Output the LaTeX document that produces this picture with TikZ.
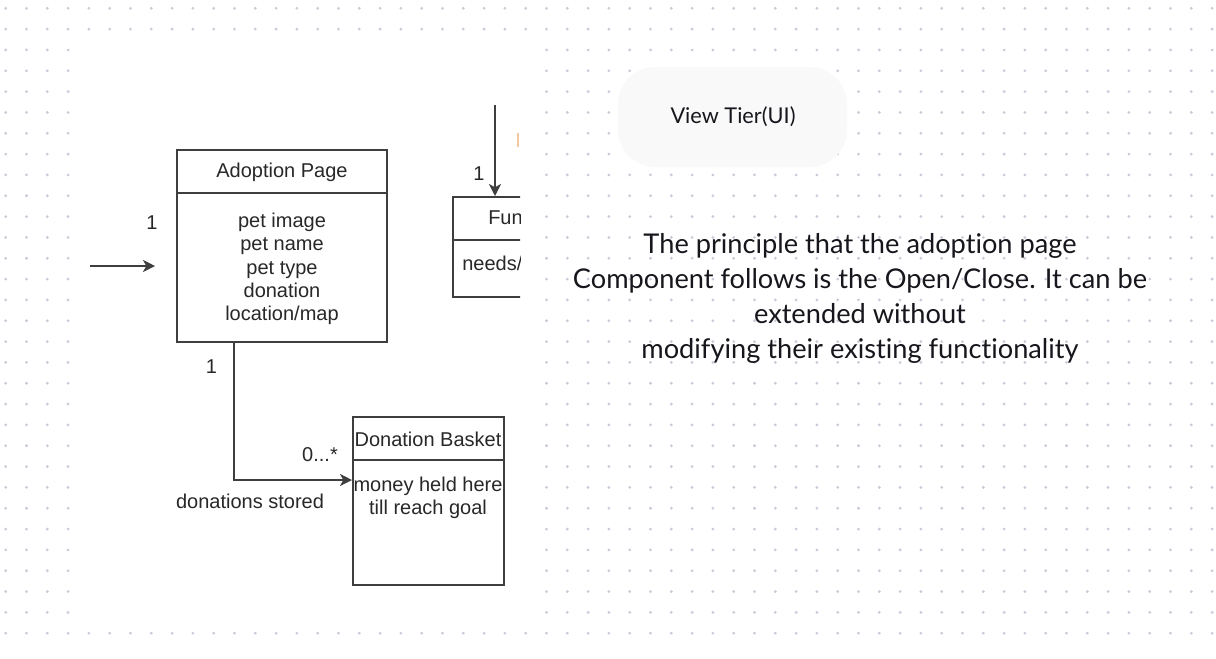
\documentclass[tikz,border=0pt]{standalone}
\usepackage{fontspec}
\setmainfont{Liberation Sans}
\newfontfamily\canva[Ligatures={NoCommon,NoRare}]{Lato}
\usetikzlibrary{arrows.meta,calc}
\definecolor{dotc}{RGB}{200,204,216}
\definecolor{linec}{RGB}{62,62,62}
\definecolor{txtc}{RGB}{40,40,40}
\definecolor{pillc}{RGB}{249,249,250}
\definecolor{markc}{RGB}{244,200,160}
\definecolor{darktxt}{RGB}{22,22,28}
\begin{document}
\begin{tikzpicture}[x=0.75pt,y=-0.75pt,
  umlbox/.style={draw=linec, line width=1.5pt, inner sep=0pt, rectangle},
  umltext/.style={text=txtc, font=\fontsize{15}{17.5}\selectfont, inner sep=0pt, align=center},
  conn/.style={draw=linec, line width=1.5pt},
  tip/.style={-{Stealth[length=9pt,width=9pt,inset=2.5pt]}},
  canvatext/.style={text=darktxt, inner sep=0pt, align=center}
]
\useasboundingbox (0,0) rectangle (1216,658);
\fill[white] (0,0) rectangle (1216,658);
% dotted grid
\foreach \i in {0,...,58}{
  \foreach \j in {0,...,30}{
    \pgfmathtruncatemacro\skipdot{(\i>3)*(\i<26)*(\j>1)*(\j<30)}
    \ifnum\skipdot=0
      \fill[dotc] ({5.7+20.8*\i},{8.3+20.83*\j}) circle (1.15pt);
    \fi
  }
}
% ---- left: UML fragment ----
\node[umlbox, minimum width=157.5pt, minimum height=144pt] (ap) at (282,246) {};
\draw[conn] (ap.west |- 0,193) coordinate (apdl) -- (ap.east |- apdl);
\node[umltext] (aptitle) at (282,172) {Adoption Page};
\node[umltext] (apbody) at (282,269) {pet image\\pet name\\pet type\\donation\\location/map};

\coordinate (la1) at (90,266);
\coordinate (la2) at (155,266);
\draw[conn, tip] (la1) -- (la2);
\node[umltext] (m1) at (152,223) {1};

% Fun box (cut off)
\begin{scope}
\clip (0,0) rectangle (520,658);
\node[umlbox, minimum width=80.25pt, minimum height=75pt] (fun) at (506.5,247) {};
\draw[conn] (fun.west |- 0,240) coordinate (fundl) -- (fun.east |- fundl);
\node[umltext, anchor=west] (funtitle) at (488,218) {Fun};
\node[umltext, anchor=west] (funbody) at (462,263) {needs/};
\end{scope}
\coordinate (fa) at (495,105);
\draw[conn, tip] (fa) -- (fun.north -| fa);
\node[umltext] (m2) at (479,174) {1};
\draw[markc, line width=1.3pt] (518,133) -- (518,147);

% Donation basket
\node[umlbox, minimum width=113.25pt, minimum height=126pt] (db) at (428.5,501) {};
\draw[conn] (db.west |- 0,460) coordinate (dbdl) -- (db.east |- dbdl);
\node[umltext] (dbtitle) at (428,439) {Donation Basket};
\node[umltext] (dbbody) at (428,498) {money held here\\till reach goal};

\coordinate (dbin) at ($(db.west)+(0,-21)$);
\draw[conn, tip] (ap.south -| 233.5,0) |- (dbin);
\node[umltext] (m3) at (211.5,367) {1};
\node[umltext] (m4) at (320,455) {0...*};
\node[umltext] (lbl) at (250,501) {donations stored};

% ---- right side ----
\node[fill=pillc, rounded corners=28pt, minimum width=171.75pt, minimum height=75pt, inner sep=0pt] (tier) at (732.5,117) {};
\node[canvatext, font=\canva\fontsize{16.3}{19}\selectfont] (tiertext) at (733,117) {View Tier(UI)};

\node[canvatext, font=\canva\fontsize{20.4}{26.25}\selectfont] (para) at (860,298) {The principle that the adoption page\\Component follows is the Open/Close. It can be\\extended without\\modifying their existing functionality};
\end{tikzpicture}
\end{document}
